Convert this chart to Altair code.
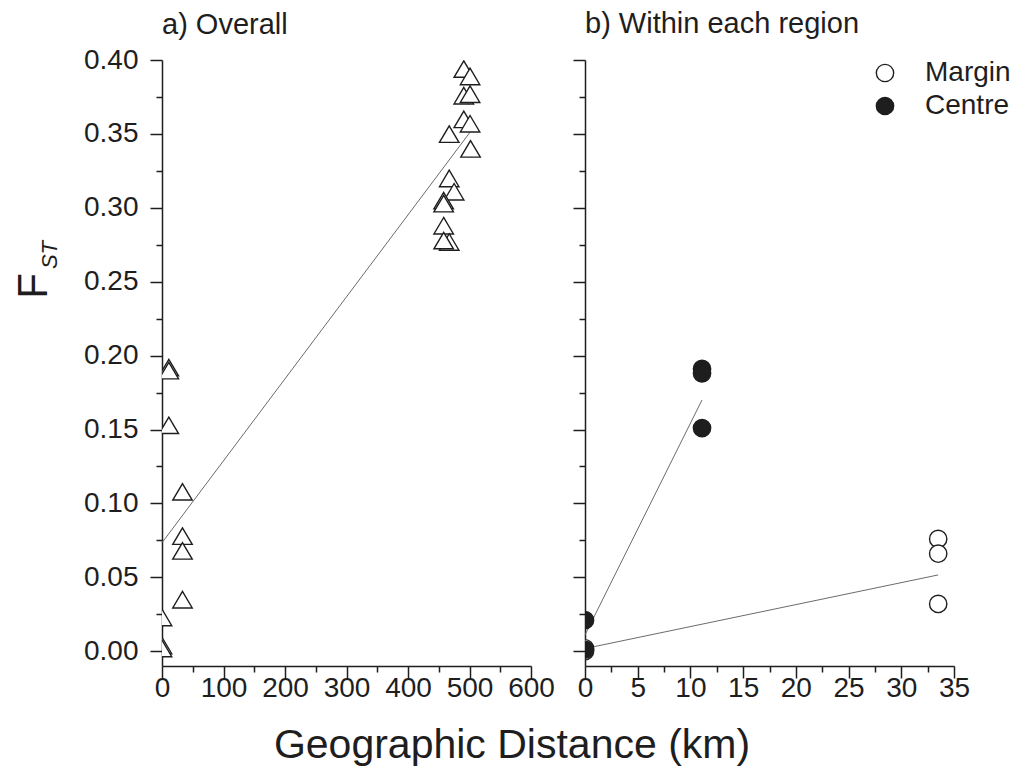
import altair as alt
import pandas as pd

# Pairwise F_ST against geographic distance, all population pairs
overall_km = [490.7, 500.9, 490.7, 500.9, 490.7, 500.9, 467.0, 501.7, 467.0, 475.0,
              458.0, 458.0, 458.0, 467.0, 458.0, 11.1, 11.1, 11.1, 33.3, 33.3,
              33.3, 33.3, 0.0, 0.0, 0.0]
overall_fst = [0.392, 0.387, 0.374, 0.375, 0.358, 0.355, 0.348, 0.338, 0.318, 0.309,
               0.303, 0.301, 0.286, 0.275, 0.276, 0.190, 0.188, 0.151, 0.106, 0.076,
               0.066, 0.033, 0.021, 0.002, 0.000]

# Pairs within each region
margin_km = [0.0, 0.0, 33.5, 33.5, 33.5]
margin_fst = [0.002, 0.000, 0.076, 0.066, 0.032]
centre_km = [0.0, 0.0, 11.1, 11.1, 11.1]
centre_fst = [0.021, 0.001, 0.191, 0.188, 0.151]

# Fitted regression lines (end points)
overall_line_km = [0.0, 501.7]
overall_line_fst = [0.0734, 0.3516]
centre_line_km = [0.0, 11.1]
centre_line_fst = [0.011, 0.170]
margin_line_km = [0.0, 33.5]
margin_line_fst = [0.0018, 0.0516]

FONT = "Liberation Sans"
INK = "#1e1e1e"
W, H = 369, 606
Y_DOMAIN = [-0.01, 0.40]
Y_MAJOR = [round(0.05 * i, 2) for i in range(9)]
Y_MINOR = [round(0.025 + 0.05 * i, 3) for i in range(8)]

# Equilateral triangle with its centroid on the data point
TRIANGLE = "M0,-1.1L-0.975,0.55L0.975,0.55Z"

overall_df = pd.DataFrame({"km": overall_km, "fst": overall_fst})
overall_line_df = pd.DataFrame({"km": overall_line_km, "fst": overall_line_fst})
region_df = pd.DataFrame({
    "km": margin_km + centre_km,
    "fst": margin_fst + centre_fst,
    "region": ["Margin"] * len(margin_km) + ["Centre"] * len(centre_km),
    "order": [0] * len(margin_km) + [1] * len(centre_km),
})
region_line_df = pd.DataFrame({
    "km": centre_line_km + margin_line_km,
    "fst": centre_line_fst + margin_line_fst,
    "region": ["Centre"] * 2 + ["Margin"] * 2,
})


def major_x(values, domain):
    return alt.X("km:Q", scale=alt.Scale(domain=domain, nice=False, zero=False),
                 axis=alt.Axis(values=values, title=None, orient="bottom", tickSize=12,
                               labelFontSize=28, labelPadding=-4, grid=False,
                               labelOverlap=False, labelFlush=False, format="d"))


def minor_x(values, domain):
    return alt.X("km:Q", scale=alt.Scale(domain=domain, nice=False, zero=False),
                 axis=alt.Axis(values=values, title=None, orient="bottom", tickSize=6,
                               labels=False, domain=False, grid=False))


def major_y(show_labels):
    return alt.Y("fst:Q", scale=alt.Scale(domain=Y_DOMAIN, nice=False, zero=False),
                 axis=alt.Axis(values=Y_MAJOR, title=None, orient="left", tickSize=12,
                               labels=show_labels, labelFontSize=28, labelPadding=12,
                               labelOverlap=False, labelFlush=False,
                               format=".2f", grid=False))


def minor_y():
    return alt.Y("fst:Q", scale=alt.Scale(domain=Y_DOMAIN, nice=False, zero=False),
                 axis=alt.Axis(values=Y_MINOR, title=None, orient="left", tickSize=6,
                               labels=False, domain=False, grid=False))


def panel_title(text, offset):
    return alt.TitleParams(text, anchor="start", frame="group", fontSize=29, font=FONT,
                           fontWeight="normal", color=INK, offset=offset)


# ---- a) Overall ----
x_dom_a = [0, 600]
line_a = alt.Chart(overall_line_df).mark_line(color="#6b6b6b", strokeWidth=1).encode(
    x=minor_x([50 + 100 * i for i in range(6)], x_dom_a),
    y=minor_y(),
)
tri_a = alt.Chart(overall_df).mark_point(
    shape=TRIANGLE, size=400, filled=True, fill="white", stroke=INK,
    strokeWidth=1.4, opacity=1, clip=True,
).encode(
    x=major_x([100 * i for i in range(7)], x_dom_a),
    y=major_y(True),
)
label_df = pd.DataFrame({"t": [""]})
f_main = alt.Chart(label_df).mark_text(
    text="F", font=FONT, fontSize=42, angle=270, color=INK, align="center", baseline="middle"
).encode(x=alt.value(-128), y=alt.value(226))
f_sub = alt.Chart(label_df).mark_text(
    text="ST", font=FONT, fontSize=22, fontStyle="italic", angle=270, color=INK,
    align="center", baseline="middle"
).encode(x=alt.value(-112), y=alt.value(195))

panel_a = alt.layer(line_a, tri_a, f_main, f_sub).resolve_axis(
    x="independent", y="independent"
).properties(width=W, height=H, title=panel_title("a) Overall", 6))

# ---- b) Within each region ----
x_dom_b = [0, 35]
line_b = alt.Chart(region_line_df).mark_line(color="#6b6b6b", strokeWidth=1).encode(
    x=minor_x([2.5 + 5 * i for i in range(7)], x_dom_b),
    y=minor_y(),
    detail="region:N",
)
dots_b = alt.Chart(region_df).mark_point(
    shape="circle", size=300, filled=True, stroke=INK, strokeWidth=1.4,
    opacity=1, clip=True,
).encode(
    x=major_x([5 * i for i in range(8)], x_dom_b),
    y=major_y(False),
    fill=alt.Fill(
        "region:N",
        scale=alt.Scale(domain=["Margin", "Centre"], range=["white", INK]),
        legend=alt.Legend(
            title=None, orient="none", legendX=286, legendY=-1, padding=0,
            symbolType="circle", symbolSize=300, symbolStrokeColor=INK,
            symbolStrokeWidth=1.4, labelFont=FONT, labelFontSize=28,
            labelColor=INK, labelOffset=26, rowPadding=5,
        ),
    ),
    order="order:Q",
)

panel_b = alt.layer(line_b, dots_b).resolve_axis(
    x="independent", y="independent"
).properties(width=W, height=H, title=panel_title("b) Within each region", 20))

chart = alt.hconcat(panel_a, panel_b, spacing=17).resolve_legend(
    fill="independent"
).properties(
    title=alt.TitleParams("Geographic Distance (km)", orient="bottom", anchor="middle",
                          fontSize=41, font=FONT, fontWeight="normal", color=INK,
                          offset=24),
    padding={"left": 13, "top": 10, "right": 0, "bottom": 0},
    background="white",
).configure_view(stroke=None).configure_axis(
    domainColor=INK, domainWidth=1.5, tickColor=INK, tickWidth=1.5,
    labelFont=FONT, labelColor=INK,
)

chart.save("out.html", embed_options={"renderer": "svg", "actions": False})
